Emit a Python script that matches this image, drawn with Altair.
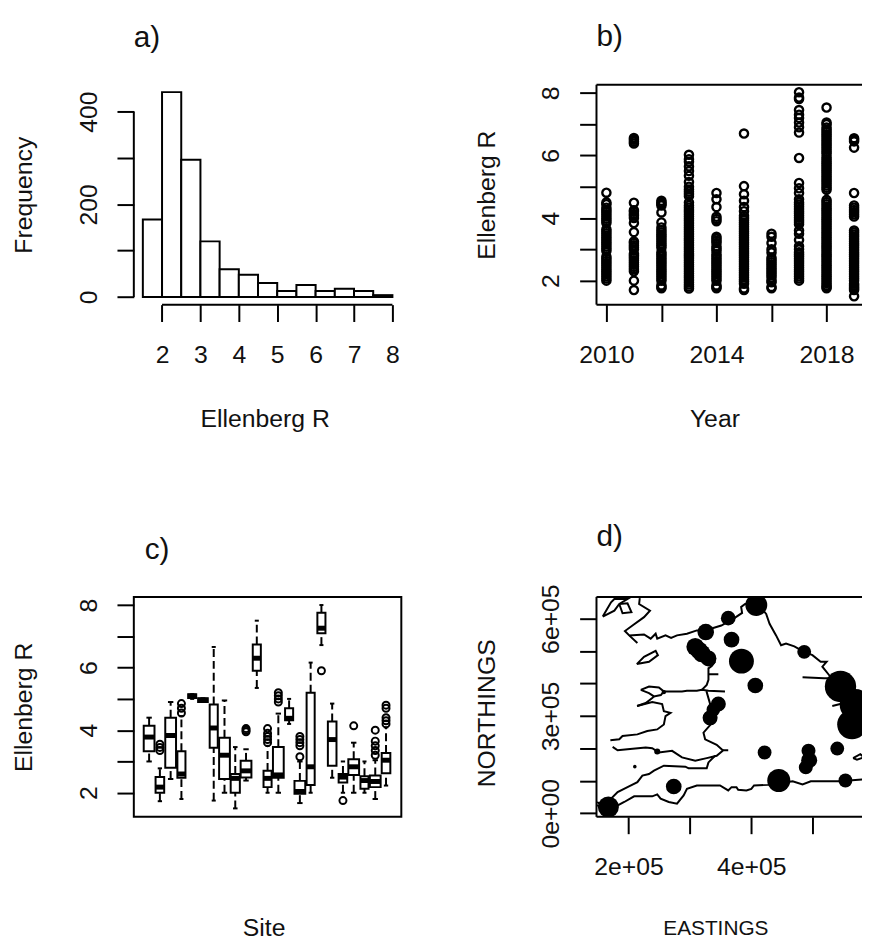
import altair as alt
import pandas as pd

# ---------- a) histogram
BIN_LOW = [1.5, 2, 2.5, 3, 3.5, 4, 4.5, 5, 5.5, 6, 6.5, 7, 7.5]
BIN_HIGH = [2, 2.5, 3, 3.5, 4, 4.5, 5, 5.5, 6, 6.5, 7, 7.5, 8]
FREQ = [167, 442, 296, 120, 60, 48, 30, 13, 26, 13, 18, 13, 4]

# ---------- b) Ellenberg R by year
BY_YEAR = {
    2010: [2.0,2.07,2.14,2.21,2.28,2.35,2.42,2.49,2.56,2.63,2.7,2.76,2.95,3.02,3.09,3.16,3.23,3.3,3.37,3.44,3.51,3.58,3.64,3.84,3.91,3.98,4.05,4.12,4.19,4.26,4.33,4.44,4.5,4.81],
    2011: [1.7,2.0,2.3,2.37,2.44,2.51,2.58,2.65,2.72,2.79,2.86,3.0,3.07,3.13,3.2,3.25,3.55,3.84,4.0,4.07,4.13,4.2,4.25,4.49,6.38,6.44,6.5,6.56],
    2012: [1.76,1.8,1.85,2.0,2.07,2.14,2.21,2.28,2.35,2.42,2.49,2.56,2.63,2.7,2.77,2.84,2.91,3.05,3.12,3.19,3.26,3.33,3.4,3.47,3.54,3.61,3.7,3.86,4.18,4.4,4.45,4.5,4.55],
    2013: [1.75,1.81,1.88,1.95,2.02,2.09,2.16,2.23,2.3,2.37,2.44,2.51,2.58,2.65,2.72,2.79,2.86,2.93,3.0,3.07,3.14,3.21,3.28,3.35,3.42,3.49,3.56,3.63,3.7,3.77,3.84,3.91,3.98,4.05,4.12,4.19,4.26,4.33,4.4,4.5,4.7,4.77,4.84,4.91,5.0,5.15,5.35,5.5,5.65,5.8,5.88,6.02],
    2014: [1.76,1.8,1.85,2.0,2.07,2.14,2.21,2.28,2.35,2.42,2.49,2.56,2.63,2.7,2.77,2.84,2.95,3.02,3.09,3.2,3.27,3.34,3.4,3.9,3.97,4.04,4.35,4.6,4.8],
    2015: [1.7,1.75,1.9,1.97,2.04,2.11,2.18,2.25,2.32,2.39,2.46,2.53,2.6,2.67,2.74,2.81,2.88,2.95,3.02,3.09,3.16,3.23,3.3,3.37,3.44,3.51,3.58,3.65,3.72,3.79,3.86,3.93,4.0,4.07,4.22,4.35,4.55,4.76,5.02,6.7],
    2016: [1.76,1.8,1.95,2.0,2.1,2.17,2.24,2.31,2.38,2.45,2.52,2.59,2.66,2.73,2.9,3.0,3.2,3.4,3.5],
    2017: [2.0,2.07,2.14,2.21,2.28,2.35,2.42,2.49,2.56,2.63,2.7,2.77,2.84,2.91,3.0,3.1,3.3,3.5,3.6,3.8,3.87,3.94,4.01,4.08,4.15,4.22,4.29,4.36,4.43,4.5,4.6,4.8,4.95,5.12,5.92,6.73,6.9,7.05,7.2,7.3,7.45,7.8,7.85,8.02],
    2018: [1.76,1.8,1.85,1.92,1.99,2.06,2.13,2.2,2.27,2.34,2.41,2.48,2.55,2.62,2.69,2.76,2.83,2.9,2.97,3.04,3.11,3.18,3.25,3.32,3.39,3.46,3.53,3.6,3.67,3.74,3.81,3.88,3.95,4.02,4.09,4.16,4.23,4.3,4.37,4.44,4.51,4.58,4.9,4.97,5.04,5.11,5.18,5.25,5.32,5.39,5.46,5.53,5.6,5.67,5.74,5.81,5.88,5.95,6.05,6.12,6.19,6.26,6.33,6.4,6.47,6.54,6.61,6.68,6.75,6.82,6.89,7.0,7.05,7.53],
    2019: [1.5,1.7,1.75,1.8,1.85,1.9,2.0,2.07,2.14,2.21,2.28,2.35,2.42,2.49,2.56,2.63,2.7,2.77,2.84,2.91,2.98,3.05,3.12,3.19,3.26,3.33,3.4,3.47,3.54,3.6,4.05,4.12,4.19,4.26,4.33,4.4,4.8,6.25,6.45,6.5,6.55],
}

# ---------- c) boxplots by site
SITE = list(range(1, 24))
WH_LOW = [3.0,1.73,2.44,1.8,5.0,4.93,1.75,2.0,1.5,2.39,5.35,2.0,2.0,4.2,1.67,2.0,6.72,2.48,2.0,2.0,2.0,1.8,2.23]
Q1 = [3.33,2.0,2.8,2.48,5.03,4.9,3.44,2.44,2.0,2.49,5.9,2.18,2.48,4.32,1.97,2.25,7.1,2.86,2.33,2.57,2.13,2.18,2.62]
MEDIAN = [3.78,2.18,3.83,2.6,5.09,4.96,4.07,3.2,2.46,2.7,6.3,2.46,2.57,4.38,2.04,2.83,7.26,3.7,2.5,2.83,2.39,2.36,3.04]
Q3 = [4.14,2.5,4.4,3.33,5.15,5.02,4.82,3.76,2.6,3.02,6.74,2.7,3.46,4.7,2.38,5.2,7.75,4.28,2.6,3.07,2.53,2.55,3.27]
WH_HIGH = [4.4,2.78,4.9,4.45,5.15,5.02,6.66,4.95,3.46,3.39,7.5,3.5,4.53,5.0,3.0,6.16,8.0,4.85,3.0,3.6,3.0,3.04,4.09]
BOX_WIDTH = [1.0,0.8,1.0,0.75,0.75,0.9,0.75,1.0,0.85,1.0,0.75,0.75,1.0,0.75,1.0,0.75,0.75,0.8,0.8,1.0,0.75,1.0,0.8]
OUT_SITE = [2,2,2,4,4,4,10,10,10,12,12,12,12,12,13,13,13,13,15,15,15,15,15,17,19,20,22,22,22,22,22,23,23,23,23,23]
OUT_VAL = [3.35,3.45,3.55,4.55,4.7,4.85,3.95,4.0,4.05,3.6,3.7,3.8,3.9,4.05,4.9,5.0,5.1,5.2,3.15,3.5,3.6,3.7,3.8,5.9,1.75,4.14,3.2,3.35,3.5,3.65,4.0,4.2,4.3,4.4,4.7,4.8]

# ---------- d) map (km east / km north)
COAST = [
    ([218.4,217.3,235,225.3,206.5,194.2,201.1,214.5],[663.4,645.1,624.6,604.5,578.8,561.8,548.3,525.1]),
    ([201.1,225.3,236.1,244.2,246.8,260.3,269.4,279,295.2,311.3,324.8,351.1,370.5,385,383.4,389.9,408,424.2,429.7,440.3,448.4,456.5,470,486.1,499.5,512.9,522.6,515.7,526.5,547.9,570],
     [548.3,551.4,538.2,553.5,538.2,548.3,540.4,548.3,553.5,563.6,563.6,578.8,599.3,617.6,635.9,645.1,650,614.6,584,548.3,517.8,523,514.7,497.6,487.3,467.1,467.1,451.8,426.2,370.3,330]),
    ([483.4,518.4,530],[419.2,416.1,416]),
    ([531.8,544.7],[330.6,336.7]),
    ([220,233.4,249.5,257.6,252.7,241.5,233.4,220],[380.4,390.8,387.7,375.5,364.2,360.3,370.3,380.4]),
    ([257.6,276.5,287.1,295.2,311.3,319.4,330.2,357.1],[375.5,375.5,375.5,377.4,377.4,380.4,377.4,375.5]),
    ([319.4,327.4,330.2,330.2,335.5,341],[380.4,395.7,410.9,446.6,453.7,467.1]),
    ([330.2,346.3],[428.3,428.3]),
    ([214,228.1,238.7,241.5],[330.6,339.8,355.1,360.3]),
    ([214,238.7,254.8,257.6,268.4,260.3,257.6,246.8,230.6,214.5,190.3,185,170.5],[330.6,342.9,336.7,314.5,309.3,299.2,273.5,258.3,253.4,243,238.1,227.8,224.7]),
    ([174.2,182.3,198.4,228.1,238.7,249.5,271,287.1,308.7,327.4,343.6,354.4,362.4],[204.6,194.2,197.2,202.4,200.3,187.1,192.3,171.9,161.8,169.7,177.1,194.2,194.2]),
    ([354.4,343.6,324.8,322.1,333.9,332.9,326.9],[192.3,210.7,227.8,248.2,273.5,336.7,376.4]),
    ([149,152.7,171.6,182.3,198.4,214.5,222.6,233.4,241.5,257.6,292.6,297.9,327.4,330.2,341],[34.5,29.3,44.6,65,80.3,95.6,116,120.9,131.3,146.5,143.5,138.3,138.3,156.6,177.1]),
    ([147.9,168.9,193.1,209.2,238.7,246.8,252.3,265.6,279,289.8,295.2,311.3,349,362.4,367.8,375.8,378.6,392,400,404.4,427,467.3,483.4,496.8,542.6,580.2,600],
     [25,10,34.5,51.9,51.9,58,44.6,34.5,29.3,55,75.1,85.5,85.5,70.2,80.3,80.3,72,70.2,75.1,85.5,87.3,98.6,88.5,98.6,98.6,103.8,104]),
    ([565.7,577.4,583.4,572,565.7],[169.7,182,171.9,165,169.7]),
    ([213.5,225.3,244.2,247.9,233.4,213.5],[459.8,482.4,500.7,487.3,467.1,459.8]),
    ([158.1,171.6,177,198.4,185,177,158.1],[606.3,650.3,660.4,660.4,645.1,624.6,606.3]),
    ([185,198.4,204.8,190.3,185],[645.1,647.2,619.8,616.7,645.1]),
]
SITE_E = [167.3,273.7,444.7,553.2,421.6,493.1,494.2,488.7,539.9,564,545.2,569.4,406.5,383.9,367.8,486.1,408.1,362.4,325.8,308.7,315,319.4,330.2,346.3,338.2,332.9,246.8,257.6,210.3]
SITE_N = [19.2,82.4,100.8,100.8,187.1,192.3,163.6,141.4,199.4,273.5,390.8,334.6,393.8,468.9,535.2,497.6,642,601.4,558.7,512.9,502,492.5,477.2,336.7,319.3,294,190.2,373.4,143.5]
SITE_AREA = [450,250,540,195,195,200,260,200,195,900,1000,1000,250,630,250,195,490,220,280,320,320,320,260,230,190,230,38,20,13]

FONT = "Liberation Sans"
INK = "#111111"
LW = 2
PW, PH = 270, 222
PW_R = 268   # right-hand panels run to the edge of the picture
FS = 25


def axis(values, labels, orient, title, **kw):
    pairs = " : ".join(f"datum.value == {v} ? '{l}'" for v, l in labels.items())
    opts = dict(
        values=values, title=title, grid=False, domain=False,
        tickSize=17, tickWidth=LW, tickColor="black",
        labelFont=FONT, labelFontSize=FS, labelColor=INK, labelOverlap=False,
        labelFlush=False, titleFont=FONT, titleFontSize=FS, titleFontWeight="normal",
        titleColor=INK, labelExpr=f"{pairs} : ''",
    )
    if orient == "left":
        opts.update(labelAngle=270, labelAlign="center", labelBaseline="bottom",
                    labelPadding=16, titleX=-111, titleY=PH / 2, titleBaseline="middle", titleAngle=270)
    else:
        opts.update(labelAngle=0, labelAlign="center", labelBaseline="middle",
                    labelPadding=33, titleX=PW / 2 - 3, titleY=115, titleBaseline="middle", titleAngle=0)
    opts.update(kw)
    return alt.Axis(**opts)


def panel_title(text, dx=0):
    return alt.TitleParams(text, anchor="start", frame="group", font=FONT, fontSize=30,
                           fontWeight="normal", color=INK, offset=32, dx=dx)


def axis_line(orient, lo, hi, scale):
    d = alt.Data(values=[{"lo": lo, "hi": hi}])
    if orient == "left":
        return alt.Chart(d).mark_rule(color="black", strokeWidth=LW).encode(
            x=alt.value(0), y=alt.Y("lo:Q", scale=scale, axis=None), y2="hi:Q")
    return alt.Chart(d).mark_rule(color="black", strokeWidth=LW).encode(
        y=alt.value(PH), x=alt.X("lo:Q", scale=scale, axis=None), x2="hi:Q")


def open_frame():
    """Left, top and bottom sides of the box; the right side lies past the picture."""
    d = alt.Data(values=[{"k": 0}])
    rule = alt.Chart(d).mark_rule(color="black", strokeWidth=LW)
    return [
        rule.encode(x=alt.value(0), y=alt.value(0), y2=alt.value(PH)),
        rule.encode(x=alt.value(0), x2=alt.value(PW_R), y=alt.value(0)),
        rule.encode(x=alt.value(0), x2=alt.value(PW_R), y=alt.value(PH)),
    ]


INDEP = dict(x="independent", y="independent")

# ---------- panel a
hist = pd.DataFrame({"lo": BIN_LOW, "hi": BIN_HIGH, "n": FREQ})
xa = alt.Scale(domain=[1.265, 8.232], nice=False, zero=False)
ya = alt.Scale(domain=[-16.5, 458], nice=False, zero=False)
a_bars = alt.Chart(hist).mark_rect(fill="white", stroke="black", strokeWidth=LW).encode(
    x=alt.X("lo:Q", scale=xa,
            axis=axis([2, 3, 4, 5, 6, 7, 8], {i: str(i) for i in range(2, 9)}, "bottom", "Ellenberg R")),
    x2="hi:Q",
    y=alt.Y("n:Q", scale=ya,
            axis=axis([0, 100, 200, 300, 400], {0: "0", 200: "200", 400: "400"}, "left", "Frequency")),
    y2=alt.datum(0),
)
panel_a = alt.layer(a_bars, axis_line("left", 0, 400, ya), axis_line("bottom", 2, 8, xa)).resolve_axis(**INDEP).properties(
    width=PW, height=PH, title=panel_title("a)"), view=alt.ViewConfig(stroke=None))

# ---------- panel b
by_year = pd.DataFrame([{"year": y, "r": v} for y, vals in BY_YEAR.items() for v in vals])
b_points = alt.Chart(by_year).mark_point(shape="circle", filled=False, stroke="black", strokeWidth=2.4, size=68, opacity=1).encode(
    x=alt.X("year:Q", scale=alt.Scale(domain=[2009.64, 2019.288], nice=False, zero=False),
            axis=axis([2010, 2012, 2014, 2016, 2018], {2010: "2010", 2014: "2014", 2018: "2018"}, "bottom", "Year", titleX=119)),
    y=alt.Y("r:Q", scale=alt.Scale(domain=[1.233, 8.26], nice=False, zero=False),
            axis=axis([2, 3, 4, 5, 6, 7, 8], {2: "2", 4: "4", 6: "6", 8: "8"}, "left", "Ellenberg R")),
)
panel_b = alt.layer(b_points, *open_frame()).resolve_axis(**INDEP).properties(
    width=PW_R, height=PH, title=panel_title("b)"), view=alt.ViewConfig(stroke=None))

# ---------- panel c
box = pd.DataFrame({"site": SITE, "wl": WH_LOW, "q1": Q1, "med": MEDIAN, "q3": Q3, "wh": WH_HIGH, "w": BOX_WIDTH})
box["left"] = box.site - box.w / 2
box["right"] = box.site + box.w / 2
box["capl"] = box.site - box.w / 4
box["capr"] = box.site + box.w / 4
out = pd.DataFrame({"site": OUT_SITE, "r": OUT_VAL})
xc = alt.Scale(domain=[-0.42, 24.42], nice=False, zero=False)
yc = alt.Scale(domain=[1.23, 8.26], nice=False, zero=False)
x_c = alt.X("site:Q", scale=xc, axis=alt.Axis(
    values=[], labels=False, ticks=False, domain=False, grid=False, title="Site",
    titleFont=FONT, titleFontSize=FS, titleFontWeight="normal", titleColor=INK,
    titleX=PW / 2 - 4, titleY=112, titleBaseline="middle"))
y_c = alt.Y("wl:Q", scale=yc,
            axis=axis([2, 3, 4, 5, 6, 7, 8], {2: "2", 4: "4", 6: "6", 8: "8"}, "left", "Ellenberg R"))
base_c = alt.Chart(box)
whisk_lo = base_c.mark_rule(color="black", strokeWidth=LW, strokeDash=[8, 4]).encode(x=x_c, y=y_c, y2="q1:Q")
whisk_hi = base_c.mark_rule(color="black", strokeWidth=LW, strokeDash=[8, 4]).encode(
    x=alt.X("site:Q", scale=xc, axis=None), y=alt.Y("q3:Q", scale=yc, axis=None), y2="wh:Q")
cap_lo = base_c.mark_rule(color="black", strokeWidth=LW).encode(
    x=alt.X("capl:Q", scale=xc, axis=None), x2="capr:Q", y=alt.Y("wl:Q", scale=yc, axis=None))
cap_hi = base_c.mark_rule(color="black", strokeWidth=LW).encode(
    x=alt.X("capl:Q", scale=xc, axis=None), x2="capr:Q", y=alt.Y("wh:Q", scale=yc, axis=None))
boxes = base_c.mark_rect(fill="white", stroke="black", strokeWidth=LW).encode(
    x=alt.X("left:Q", scale=xc, axis=None), x2="right:Q", y=alt.Y("q1:Q", scale=yc, axis=None), y2="q3:Q")
medians = base_c.mark_rule(color="black", strokeWidth=5).encode(
    x=alt.X("left:Q", scale=xc, axis=None), x2="right:Q", y=alt.Y("med:Q", scale=yc, axis=None))
outliers = alt.Chart(out).mark_point(shape="circle", filled=False, stroke="black", strokeWidth=2, size=50, opacity=1).encode(
    x=alt.X("site:Q", scale=xc, axis=None), y=alt.Y("r:Q", scale=yc, axis=None))
panel_c = alt.layer(whisk_lo, whisk_hi, cap_lo, cap_hi, boxes, medians, outliers).resolve_axis(**INDEP).properties(
    width=PW, height=PH, title=panel_title("c)", dx=11), view=alt.ViewConfig(stroke="black", strokeWidth=LW))

# ---------- panel d
coast = pd.DataFrame([
    {"seg": s, "i": i, "e": e * 1000, "n": n * 1000}
    for s, (es, ns) in enumerate(COAST) for i, (e, n) in enumerate(zip(es, ns))
])
sites = pd.DataFrame({"e": [v * 1000 for v in SITE_E], "n": [v * 1000 for v in SITE_N], "area": SITE_AREA})
xd = alt.Scale(domain=[147900, 580200], nice=False, zero=False)
yd = alt.Scale(domain=[-11300, 667000], nice=False, zero=False)
map_lines = alt.Chart(coast).mark_line(color="black", strokeWidth=2, clip=True, interpolate="linear").encode(
    x=alt.X("e:Q", scale=xd,
            axis=axis([200000, 300000, 400000, 500000], {200000: "2e+05", 400000: "4e+05"}, "bottom", "EASTINGS",
                      titleX=120, titleY=113, titleFontSize=21)),
    y=alt.Y("n:Q", scale=yd,
            axis=axis([0, 100000, 200000, 300000, 400000, 500000, 600000],
                      {0: "0e+00", 300000: "3e+05", 600000: "6e+05"}, "left", "NORTHINGS", titleY=117)),
    detail="seg:N", order="i:Q",
)
map_sites = alt.Chart(sites).mark_circle(color="black", opacity=1, clip=True).encode(
    x=alt.X("e:Q", scale=xd, axis=None), y=alt.Y("n:Q", scale=yd, axis=None),
    size=alt.Size("area:Q", scale=None, legend=None),
)
panel_d = alt.layer(map_lines, map_sites, *open_frame()).resolve_axis(**INDEP).properties(
    width=PW_R, height=PH, title=panel_title("d)"), view=alt.ViewConfig(stroke=None))

chart = alt.concat(panel_a, panel_b, panel_c, panel_d, columns=2,
                   spacing={"row": 295, "column": 197},
                   bounds="flush").properties(
    background="white",
    autosize=alt.AutoSizeParams(type="none"),
    padding={"left": 127, "top": 73, "right": 735, "bottom": 871},
)
chart.save("out.html", embed_options={"renderer": "svg", "actions": False})
